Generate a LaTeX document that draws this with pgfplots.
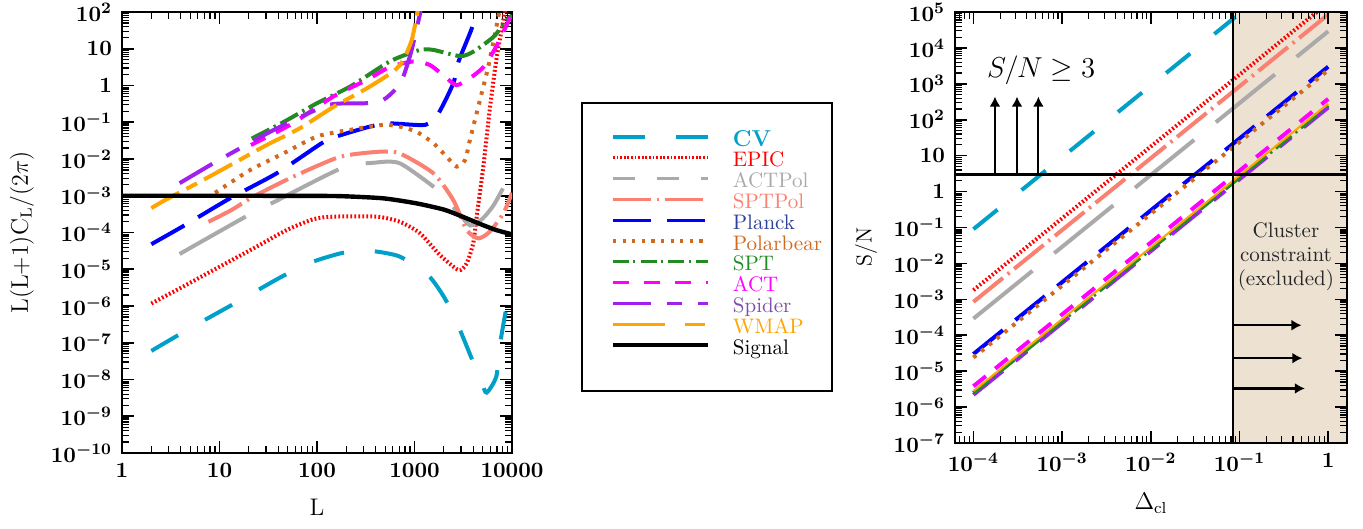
\documentclass[border=0pt]{standalone}
\usepackage{pgfplots}
\pgfplotsset{compat=1.18}
\usetikzlibrary{arrows.meta}
\definecolor{cvc}{RGB}{0,160,200}
\definecolor{epic}{RGB}{255,0,0}
\definecolor{actpol}{RGB}{170,170,170}
\definecolor{sptpol}{RGB}{250,128,114}
\definecolor{planck}{RGB}{0,0,255}
\definecolor{plancktext}{RGB}{45,65,155}
\definecolor{polar}{RGB}{210,105,30}
\definecolor{spt}{RGB}{34,139,34}
\definecolor{act}{RGB}{255,0,255}
\definecolor{spider}{RGB}{160,32,240}
\definecolor{spidertext}{RGB}{125,80,170}
\definecolor{wmap}{RGB}{255,165,0}
\definecolor{tanbg}{RGB}{237,225,210}
\tikzset{
  lgtxt/.style={inner sep=0pt, text height=6.8pt, text depth=3.6pt, text width=35pt, align=left},
  cvS/.style={cvc, line width=2pt, dash pattern=on 15.5pt off 15.5pt},
  epicS/.style={epic, line width=2pt, dash pattern=on 0.9pt off 1.1pt},
  actpolS/.style={actpol, line width=2pt, dash pattern=on 38pt off 14pt},
  sptpolS/.style={sptpol, line width=2pt, dash pattern=on 19pt off 3pt on 1.2pt off 3pt},
  planckS/.style={planck, line width=2pt, dash pattern=on 19pt off 8pt},
  polarS/.style={polar, line width=2pt, dash pattern=on 1.8pt off 3.2pt},
  sptS/.style={spt, line width=2pt, dash pattern=on 10pt off 2.5pt on 1.2pt off 2.5pt},
  actS/.style={act, line width=2pt, dash pattern=on 8pt off 6pt},
  spiderS/.style={spider, line width=2pt, dash pattern=on 19pt off 8pt on 7.5pt off 8pt},
  wmapS/.style={wmap, line width=2pt, dash pattern=on 16pt off 4pt on 6pt off 4pt},
  signalS/.style={black, line width=2.2pt},
}
\begin{document}
\begin{tikzpicture}
\path[use as bounding box] (0,0) rectangle (681.5pt,264.5pt);
% ---------------- left panel ----------------
\begin{axis}[at={(61pt,38pt)}, anchor=south west, scale only axis, width=195pt, height=220.5pt,
  xmode=log, ymode=log,
  axis line style={line width=1.2pt},
  every tick/.style={black, line width=0.8pt},
  every minor tick/.style={black, line width=0.6pt},
  major tick length=6pt, minor tick length=3.5pt,
  tick label style={font=\fontsize{11}{13}\selectfont\boldmath},
  xticklabel style={yshift=-1.5pt},
  yticklabel style={xshift=-1.5pt},
  xmin=1, xmax=10000, ymin=1e-10, ymax=100,
  xtick={1,10,100,1000,10000}, xticklabels={$1$,$10$,$100$,$1000$,$10000$},
  ytick={1e-10,1e-9,1e-8,1e-7,1e-6,1e-5,1e-4,1e-3,1e-2,1e-1,1,10,100},
  yticklabels={$10^{-10}$,$10^{-9}$,$10^{-8}$,$10^{-7}$,$10^{-6}$,$10^{-5}$,$10^{-4}$,$10^{-3}$,$10^{-2}$,$10^{-1}$,$1$,$10$,$10^{2}$},
  minor xtick={2,3,4,5,6,7,8,9,20,30,40,50,60,70,80,90,200,300,400,500,600,700,800,900,2000,3000,4000,5000,6000,7000,8000,9000},
  minor ytick={2e-10,3e-10,4e-10,5e-10,6e-10,7e-10,8e-10,9e-10,
    2e-9,3e-9,4e-9,5e-9,6e-9,7e-9,8e-9,9e-9,
    2e-8,3e-8,4e-8,5e-8,6e-8,7e-8,8e-8,9e-8,
    2e-7,3e-7,4e-7,5e-7,6e-7,7e-7,8e-7,9e-7,
    2e-6,3e-6,4e-6,5e-6,6e-6,7e-6,8e-6,9e-6,
    2e-5,3e-5,4e-5,5e-5,6e-5,7e-5,8e-5,9e-5,
    2e-4,3e-4,4e-4,5e-4,6e-4,7e-4,8e-4,9e-4,
    2e-3,3e-3,4e-3,5e-3,6e-3,7e-3,8e-3,9e-3,
    2e-2,3e-2,4e-2,5e-2,6e-2,7e-2,8e-2,9e-2,
    0.2,0.3,0.4,0.5,0.6,0.7,0.8,0.9,
    2,3,4,5,6,7,8,9,20,30,40,50,60,70,80,90},
  xlabel={L}, ylabel={L(L+1)C$_{\mathrm{L}}$/(2$\pi$)},
  xlabel style={at={(axis description cs:0.5,0)}, anchor=center, yshift=-27pt, font=\fontsize{12}{14}\selectfont},
  ylabel style={at={(axis description cs:-0.2564,0.5)}, anchor=center, font=\fontsize{12}{14}\selectfont},
  legend image code/.code={\draw[#1] (0pt,3pt) -- (47.5pt,3pt);},
  legend cell align=left,
  legend style={at={(axis description cs:1.1769,0.7959)}, anchor=north west, draw=black, line width=0.9pt,
    inner xsep=14.5pt, inner ysep=14.8pt, row sep=0pt, column sep=11.5pt, font=\fontsize{10.5}{12}\selectfont},
]
\addplot[cvS, smooth, tension=0.4, forget plot] coordinates {
(2,6.0e-8) (3.6,1.5e-7) (7.1,4.2e-7) (12.8,1.0e-6) (25,2.75e-6) (45,6.6e-6) (92,1.62e-5)
(173,2.7e-5) (235,3.0e-5) (380,3.1e-5) (710,2.2e-5) (1380,6.9e-6) (2050,1.6e-6) (2830,2.75e-7)
(3700,4.9e-8) (4900,7.9e-9) (5500,4.4e-9) (6900,1.2e-8) (7570,9.8e-8) (8600,7.0e-7)};
\addplot[epicS, smooth, tension=0.4, forget plot] coordinates {
(2,1.17e-6) (4.26,3.4e-6) (10,1.17e-5) (24,4.1e-5) (49,1.17e-4) (92,2.3e-4) (147,2.7e-4)
(410,2.7e-4) (710,1.95e-4) (1140,9.5e-5) (1820,2.45e-5) (2830,9.5e-6) (3430,1.45e-5)
(4000,5.1e-5) (4340,2.7e-4) (5080,6.2e-3) (5900,0.21) (6900,4.9) (8150,60) (8800,200)};
\addplot[actpolS, smooth, tension=0.4, forget plot] coordinates {
(3.9,2.6e-5) (19,2.8e-4) (35.7,6.6e-4) (178,5.6e-3) (380,7.9e-3) (710,7.6e-3) (1820,1.29e-3)
(2400,5.6e-4) (2940,3.0e-4) (3740,1.55e-4) (5000,2.4e-4) (6500,5.6e-4) (8700,2.3e-3)};
\addplot[sptpolS, smooth, tension=0.4, forget plot] coordinates {
(7.7,1.95e-4) (13.3,4.1e-4) (22,9.3e-4) (57,3.3e-3) (173,1.15e-2) (443,1.58e-2) (710,1.41e-2)
(1560,4.1e-3) (2500,7.6e-4) (3430,1.17e-4) (4520,6.9e-5) (5900,1.05e-4) (8150,3.3e-4) (10000,1.2e-3)};
\addplot[planckS, smooth, tension=0.4, forget plot] coordinates {
(2,4.8e-5) (4.26,1.5e-4) (12.8,8.5e-4) (38.7,4.1e-3) (112,2.7e-2) (159,4.1e-2) (348,7.6e-2)
(560,9.3e-2) (1290,8.5e-2) (1750,0.17) (2500,1.15) (2830,4.5) (3870,36) (4300,126)};
\addplot[polarS, smooth, tension=0.4, forget plot] coordinates {
(9,1.2e-3) (20.6,5.0e-3) (45,1.41e-2) (100,4.1e-2) (218,6.2e-2) (480,8.5e-2) (710,7.6e-2)
(1050,5.5e-2) (1560,2.7e-2) (2140,1.15e-2) (2700,6.2e-3) (3300,9.3e-3) (3700,3.3e-2)
(4700,0.41) (5700,3.2) (6700,26) (7300,83) (7600,160)};
\addplot[sptS, smooth, tension=0.4, forget plot] coordinates {
(21.4,3.6e-2) (45,0.10) (100,0.33) (218,0.93) (515,4.0) (710,6.0) (1140,9.3) (1560,9.3)
(2940,6.3) (4000,8.3) (6450,21) (8800,60) (10000,80)};
\addplot[actS, smooth, tension=0.4, forget plot] coordinates {
(21,2.4e-2) (53,8.5e-2) (147,0.50) (323,1.41) (560,3.2) (975,4.5) (1440,3.6) (2140,1.58)
(2700,1.02) (3700,1.58) (5100,3.2) (6900,11.5) (9500,68) (10000,100)};
\addplot[spiderS, smooth, tension=0.4, forget plot] coordinates {
(3.9,2.2e-3) (8.6,7.6e-3) (16.2,1.95e-2) (23,3.3e-2) (49,9.3e-2) (135,0.30) (323,0.33)
(480,0.41) (630,0.76) (767,1.74) (935,9.3) (1140,91) (1200,200)};
\addplot[wmapS, smooth, tension=0.4, forget plot] coordinates {
(2,4.6e-4) (2.76,7.6e-4) (6.3,2.4e-3) (13.9,7.6e-3) (30.5,2.4e-2) (67,6.9e-2) (147,0.26)
(323,0.83) (605,2.4) (767,4.9) (935,17) (1050,74) (1100,160)};
\addplot[signalS, smooth, tension=0.4, forget plot] coordinates {
(1,1e-3) (10,1e-3) (100,9.9e-4) (186,9.7e-4) (480,8.5e-4) (1050,6.2e-4) (2000,4.2e-4)
(3000,2.8e-4) (5000,1.6e-4) (7000,1.15e-4) (10000,8.9e-5)};
% legend
\addlegendimage{cvc, line width=1.7pt, dash pattern=on 16pt off 15.5pt}
\addlegendentry[lgtxt, text=cvc, font=\fontsize{11.5}{13}\selectfont\bfseries]{CV}
\addlegendimage{epic, line width=1.4pt, dash pattern=on 0.9pt off 0.9pt}
\addlegendentry[lgtxt, text=epic]{EPIC}
\addlegendimage{actpol, line width=1.4pt, dash pattern=on 11pt off 11pt}
\addlegendentry[lgtxt, text=actpol]{ACTPol}
\addlegendimage{sptpol, line width=1.6pt, dash pattern=on 19pt off 3pt on 1pt off 3pt}
\addlegendentry[lgtxt, text=sptpol]{SPTPol}
\addlegendimage{planck, line width=1.6pt, dash pattern=on 19pt off 8pt}
\addlegendentry[lgtxt, text=plancktext]{Planck}
\addlegendimage{polar, line width=1.6pt, dash pattern=on 1.6pt off 3.2pt}
\addlegendentry[lgtxt, text=polar]{Polarbear}
\addlegendimage{spt, line width=1.6pt, dash pattern=on 8pt off 2.2pt on 1pt off 2.6pt}
\addlegendentry[lgtxt, text=spt]{SPT}
\addlegendimage{act, line width=1.6pt, dash pattern=on 7.8pt off 7.7pt}
\addlegendentry[lgtxt, text=act]{ACT}
\addlegendimage{spider, line width=1.6pt, dash pattern=on 19pt off 8pt on 7.5pt off 8pt}
\addlegendentry[lgtxt, text=spidertext]{Spider}
\addlegendimage{wmap, line width=1.6pt, dash pattern=on 26pt off 10pt on 10pt off 10pt}
\addlegendentry[lgtxt, text=wmap]{WMAP}
\addlegendimage{black, line width=2pt}
\addlegendentry[lgtxt, text=black]{Signal}
\end{axis}
% ---------------- right panel ----------------
\begin{axis}[at={(477.5pt,43pt)}, anchor=south west, scale only axis, width=196pt, height=215.5pt,
  xmode=log, ymode=log,
  axis line style={line width=1.2pt},
  every tick/.style={black, line width=0.8pt},
  every minor tick/.style={black, line width=0.6pt},
  major tick length=6pt, minor tick length=3.5pt,
  tick label style={font=\fontsize{11}{13}\selectfont\boldmath},
  xticklabel style={yshift=-1.5pt},
  yticklabel style={xshift=-1.5pt},
  xmin=6.2e-5, xmax=1.63, ymin=1e-7, ymax=1e5, axis on top,
  xtick={1e-4,1e-3,1e-2,1e-1,1}, xticklabels={$10^{-4}$,$10^{-3}$,$10^{-2}$,$10^{-1}$,$1$},
  ytick={1e-7,1e-6,1e-5,1e-4,1e-3,1e-2,1e-1,1,10,100,1e3,1e4,1e5},
  yticklabels={$10^{-7}$,$10^{-6}$,$10^{-5}$,$10^{-4}$,$10^{-3}$,$10^{-2}$,$10^{-1}$,$1$,$10$,$10^{2}$,$10^{3}$,$10^{4}$,$10^{5}$},
  minor xtick={7e-5,8e-5,9e-5,
    2e-4,3e-4,4e-4,5e-4,6e-4,7e-4,8e-4,9e-4,
    2e-3,3e-3,4e-3,5e-3,6e-3,7e-3,8e-3,9e-3,
    2e-2,3e-2,4e-2,5e-2,6e-2,7e-2,8e-2,9e-2,
    0.2,0.3,0.4,0.5,0.6,0.7,0.8,0.9},
  minor ytick={2e-7,3e-7,4e-7,5e-7,6e-7,7e-7,8e-7,9e-7,
    2e-6,3e-6,4e-6,5e-6,6e-6,7e-6,8e-6,9e-6,
    2e-5,3e-5,4e-5,5e-5,6e-5,7e-5,8e-5,9e-5,
    2e-4,3e-4,4e-4,5e-4,6e-4,7e-4,8e-4,9e-4,
    2e-3,3e-3,4e-3,5e-3,6e-3,7e-3,8e-3,9e-3,
    2e-2,3e-2,4e-2,5e-2,6e-2,7e-2,8e-2,9e-2,
    0.2,0.3,0.4,0.5,0.6,0.7,0.8,0.9,
    2,3,4,5,6,7,8,9,20,30,40,50,60,70,80,90,
    200,300,400,500,600,700,800,900,
    2000,3000,4000,5000,6000,7000,8000,9000,
    20000,30000,40000,50000,60000,70000,80000,90000},
  xlabel={$\Delta_{\mathrm{cl}}$}, ylabel={S/N},
  xlabel style={at={(axis description cs:0.5,0)}, anchor=center, yshift=-30pt, font=\fontsize{12}{14}\selectfont},
  ylabel style={at={(axis description cs:-0.227,0.455)}, anchor=center, font=\fontsize{11}{13}\selectfont},
]
\fill[tanbg] (axis cs:0.085,1e-7) rectangle (axis cs:1.63,1e5);
\addplot[cvS] coordinates {(1e-4,0.09) (0.09,72900)};
\addplot[epicS] coordinates {(1e-4,1.8e-3) (1,1.8e5)};
\addplot[sptpolS] coordinates {(1e-4,8.5e-4) (1,8.5e4)};
\addplot[actpolS] coordinates {(1e-4,2.9e-4) (1,2.9e4)};
\addplot[planckS] coordinates {(1e-4,3.0e-5) (1,3.0e3)};
\addplot[polarS] coordinates {(1e-4,2.4e-5) (1,2.4e3)};
\addplot[actS] coordinates {(1e-4,3.8e-6) (1,380)};
\addplot[spiderS] coordinates {(1e-4,2.2e-6) (1,220)};
\addplot[sptS] coordinates {(1e-4,2.5e-6) (1,250)};
\addplot[wmap, line width=1pt] coordinates {(1e-4,2.8e-6) (1,280)};
\addplot[black, line width=1.4pt] coordinates {(6.2e-5,3) (1.63,3)};
\draw[black, line width=0.9pt] (axis cs:0.085,1e-7) -- (axis cs:0.085,1e5);
\draw[line width=1.1pt, -{Latex[length=5pt,width=5.5pt]}] (axis cs:1.75e-4,3) -- (axis cs:1.75e-4,440);
\draw[line width=1.1pt, -{Latex[length=5pt,width=5.5pt]}] (axis cs:3.1e-4,3) -- (axis cs:3.1e-4,440);
\draw[line width=1.1pt, -{Latex[length=5pt,width=5.5pt]}] (axis cs:5.4e-4,3) -- (axis cs:5.4e-4,440);
\draw[line width=1.1pt, -{Latex[length=5pt,width=5.5pt]}] (axis cs:0.086,1.9e-4) -- (axis cs:0.50,1.9e-4);
\draw[line width=1.1pt, -{Latex[length=5pt,width=5.5pt]}] (axis cs:0.086,2.3e-5) -- (axis cs:0.51,2.3e-5);
\draw[line width=1.1pt, -{Latex[length=5pt,width=5.5pt]}] (axis cs:0.086,3.3e-6) -- (axis cs:0.545,3.3e-6);
\node[font=\fontsize{14}{16}\selectfont] at (axis cs:5.8e-4,2400) {$S/N \geq 3$};
\node[align=center, font=\fontsize{10.5}{12}\selectfont, text=black!85] at (axis cs:0.334,0.0158) {Cluster\\constraint\\(excluded)};
\end{axis}
\end{tikzpicture}
\end{document}
